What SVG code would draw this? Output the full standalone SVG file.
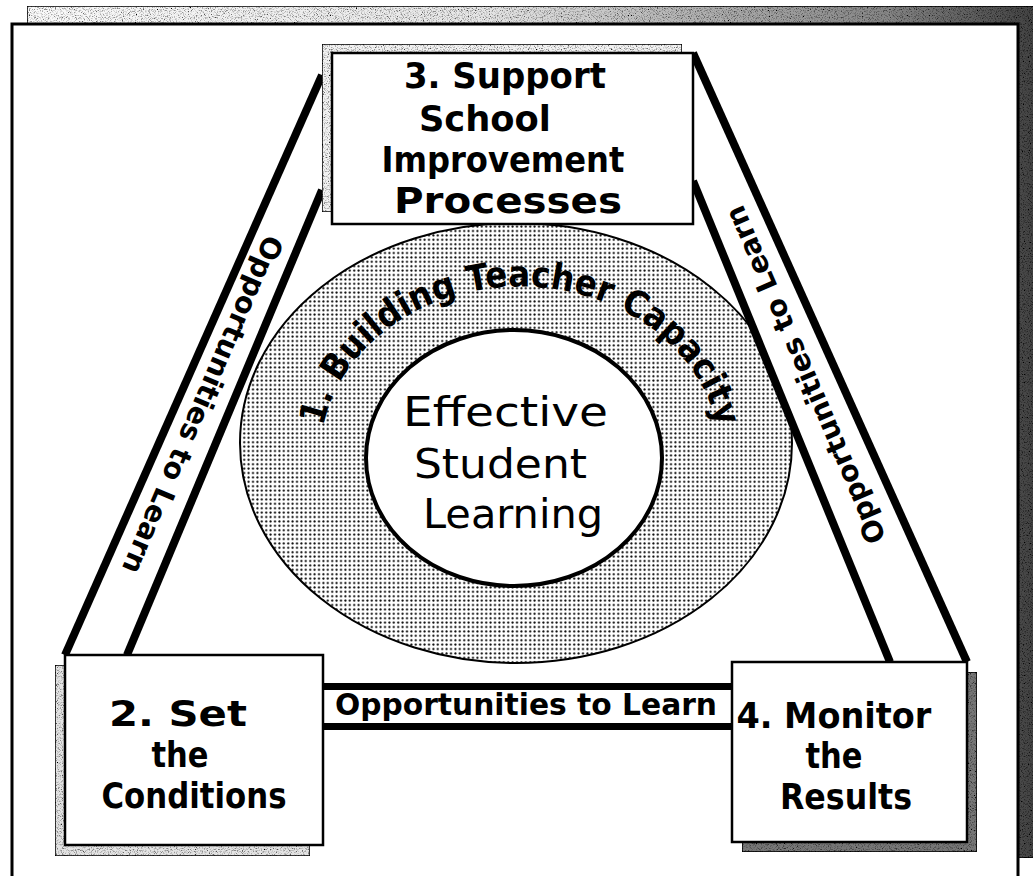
<svg xmlns="http://www.w3.org/2000/svg" width="1033" height="876" viewBox="0 0 1033 876">
  <defs>
    <style>
      .lbl{font-family:"DejaVu Sans","Liberation Sans",sans-serif;font-weight:bold;fill:#000}
      .hub{font-family:"DejaVu Sans","Liberation Sans",sans-serif;font-weight:normal;fill:#000}
      .box{fill:#fff;stroke:#000;stroke-width:2.5}
      .shadow{stroke:#000;stroke-width:1.5}
      .rail{stroke:#000;stroke-width:8;fill:none;stroke-linecap:butt}
      .band{fill:#fff;stroke:none}
    </style>
    <!-- fine dot screen for the capacity ring -->
    <pattern id="dots" width="4.4" height="4.4" patternUnits="userSpaceOnUse">
      <rect width="4.4" height="4.4" fill="#fff"/>
      <circle cx="2.2" cy="2.2" r="1.05" fill="#000"/>
    </pattern>
    <!-- speckled grain used on the drop shadows -->
    <filter id="grain" x="0" y="0" width="1" height="1">
      <feTurbulence type="fractalNoise" baseFrequency="0.85" numOctaves="2" seed="7" result="noise"/>
      <feColorMatrix in="noise" type="matrix" values="0 0 0 0 0  0 0 0 0 0  0 0 0 0 0  3 0 0 0 -1.45" result="specks"/>
      <feComposite in="specks" in2="SourceAlpha" operator="in" result="clipped"/>
      <feMerge><feMergeNode in="SourceGraphic"/><feMergeNode in="clipped"/></feMerge>
    </filter>
    <linearGradient id="frameShade" x1="0" y1="0" x2="1" y2="0">
      <stop offset="0" stop-color="#fafafa"/>
      <stop offset="0.45" stop-color="#e6e6e6"/>
      <stop offset="0.65" stop-color="#b4b4b4"/>
      <stop offset="0.85" stop-color="#858585"/>
      <stop offset="1" stop-color="#404040"/>
    </linearGradient>
    <!-- baseline of the curved ring caption -->
    <path id="arc" d="M 320.1 451 A 200 170 0 0 1 719.9 451"/>
  </defs>

  <!-- page frame with its offset shadow -->
  <g id="frame">
    <rect x="27" y="6" width="1012" height="852" fill="url(#frameShade)" class="shadow" filter="url(#grain)"/>
    <rect x="12" y="24" width="1006" height="880" fill="#fff" stroke="#000" stroke-width="3"/>
  </g>

  <!-- central hub: capacity ring around student learning -->
  <g id="node-capacity">
    <ellipse cx="516" cy="443" rx="276" ry="220" fill="url(#dots)" stroke="#000" stroke-width="2"/>
    <text class="lbl" font-size="36"><textPath href="#arc" startOffset="50%" text-anchor="middle" textLength="522" lengthAdjust="spacingAndGlyphs">1. Building Teacher Capacity</textPath></text>
  </g>
  <g id="node-learning">
    <ellipse cx="514" cy="458" rx="148" ry="128" fill="#fff" stroke="#000" stroke-width="4"/>
    <text class="hub" font-size="41" text-anchor="middle">
      <tspan x="512" y="426" textLength="205" lengthAdjust="spacingAndGlyphs">Effective</tspan>
      <tspan x="507" y="478" textLength="173" lengthAdjust="spacingAndGlyphs">Student</tspan>
      <tspan x="513" y="528" textLength="180" lengthAdjust="spacingAndGlyphs">Learning</tspan>
    </text>
  </g>

  <!-- connectors: double-ruled bands labelled with opportunities to learn -->
  <g id="connectors">
    <g id="link-conditions-support">
      <polygon class="band" points="65,655 322,75 322,190 127,655"/>
      <line class="rail" x1="65" y1="655" x2="322" y2="75"/>
      <line class="rail" x1="127" y1="655" x2="322" y2="190"/>
      <text class="lbl" font-size="28.5" text-anchor="middle" transform="translate(203 405) rotate(113.3)" dy="0.36em" textLength="365" lengthAdjust="spacingAndGlyphs">Opportunities to Learn</text>
    </g>
    <g id="link-support-monitor">
      <polygon class="band" points="693,53 967,662 890,662 693,181"/>
      <line class="rail" x1="693" y1="53" x2="967" y2="662"/>
      <line class="rail" x1="693" y1="181" x2="890" y2="662"/>
      <text class="lbl" font-size="28.5" text-anchor="middle" transform="translate(805 375) rotate(-113.3)" dy="0.36em" textLength="365" lengthAdjust="spacingAndGlyphs">Opportunities to Learn</text>
    </g>
    <g id="link-conditions-monitor">
      <rect x="323" y="683" width="409" height="7" fill="#000"/>
      <rect x="323" y="723" width="409" height="7" fill="#000"/>
      <text class="lbl" font-size="30" x="526" y="715" text-anchor="middle" textLength="382" lengthAdjust="spacingAndGlyphs">Opportunities to Learn</text>
    </g>
  </g>

  <!-- step 3 -->
  <g id="node-support">
    <rect x="322" y="44" width="360" height="168" fill="#f2f2f2" class="shadow" filter="url(#grain)"/>
    <rect class="box" x="332" y="53" width="361" height="171"/>
    <text class="lbl" font-size="35" text-anchor="middle">
      <tspan x="511" y="88" textLength="202" lengthAdjust="spacingAndGlyphs">3. Support</tspan>
      <tspan x="491" y="131" textLength="132" lengthAdjust="spacingAndGlyphs">School</tspan>
      <tspan x="509" y="172" textLength="243" lengthAdjust="spacingAndGlyphs">Improvement</tspan>
      <tspan x="508" y="213" textLength="228" lengthAdjust="spacingAndGlyphs">Processes</tspan>
    </text>
  </g>

  <!-- step 2 -->
  <g id="node-conditions">
    <rect x="55" y="665" width="255" height="191" fill="#e4e4e4" class="shadow" filter="url(#grain)"/>
    <rect class="box" x="65" y="655" width="258" height="190"/>
    <text class="lbl" font-size="35" text-anchor="middle">
      <tspan x="184" y="726" textLength="138" lengthAdjust="spacingAndGlyphs">2. Set</tspan>
      <tspan x="186" y="767" textLength="57" lengthAdjust="spacingAndGlyphs">the</tspan>
      <tspan x="194" y="808" textLength="185" lengthAdjust="spacingAndGlyphs">Conditions</tspan>
    </text>
  </g>

  <!-- step 4 -->
  <g id="node-monitor">
    <rect x="742" y="672" width="235" height="180" fill="#777" class="shadow" filter="url(#grain)"/>
    <rect class="box" x="732" y="662" width="235" height="180"/>
    <text class="lbl" font-size="35" text-anchor="middle">
      <tspan x="840" y="728" textLength="195" lengthAdjust="spacingAndGlyphs">4. Monitor</tspan>
      <tspan x="840" y="768" textLength="57" lengthAdjust="spacingAndGlyphs">the</tspan>
      <tspan x="846" y="809" textLength="132" lengthAdjust="spacingAndGlyphs">Results</tspan>
    </text>
  </g>
</svg>
